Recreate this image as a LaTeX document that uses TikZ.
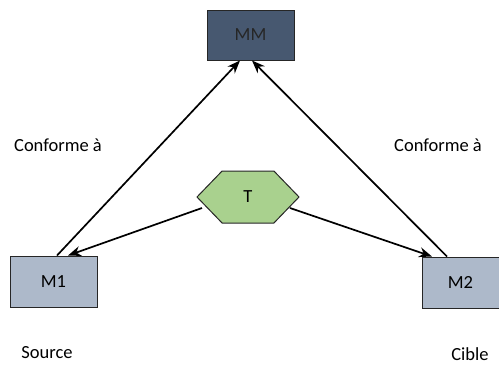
\documentclass[tikz,border=0pt]{standalone}
\usepackage{fontspec}
\setmainfont{Carlito}
\usetikzlibrary{arrows.meta,calc,shapes.symbols}
\begin{document}
\begin{tikzpicture}[x=1pt,y=-1pt,
  box/.style={draw=black!85,line width=1pt,inner sep=0pt,font=\fontsize{18.5}{20}\selectfont},
  lbl/.style={font=\fontsize{18.5}{20}\selectfont,inner sep=0pt},
  arr/.style={line width=1.7pt,-{Stealth[length=13pt,width=10pt]}}]
\useasboundingbox (0,0) rectangle (499,365);
\definecolor{mmfill}{HTML}{475870}
\definecolor{mfill}{HTML}{ADB9CA}
\definecolor{tfill}{HTML}{A9D18E}
\node[box,fill=mmfill,minimum width=87pt,minimum height=50pt,text=black!85] (MM) at (250.5,35) {MM};
\node[box,fill=mfill,minimum width=87pt,minimum height=51pt] (M1) at (53.5,281.5) {M1};
\node[box,fill=mfill,minimum width=77pt,minimum height=51pt] (M2) at (460.5,282.5) {M2};
\node[box,shape=signal,signal to=west and east,signal pointer angle=92,fill=tfill,minimum width=102pt,minimum height=52pt] (T) at (248,197) {T};
\coordinate (m1s) at ($(M1.north)+(3.5,0)$);
\coordinate (m1t) at ($(M1.north)+(14.5,0)$);
\coordinate (m2s) at ($(M2.north)+(-13.5,0)$);
\coordinate (m2t) at ($(M2.north)+(-28.5,0)$);
\coordinate (mma) at ($(MM.south)+(-10.5,0)$);
\coordinate (mmb) at ($(MM.south)+(1.5,0)$);
\coordinate (tl) at ($(T.center)+(-46,11)$);
\coordinate (tr) at ($(T.center)+(42,11)$);
\draw[arr] (m1s) -- (mma);
\draw[arr] (m2s) -- (mmb);
\draw[arr] (tl) -- (m1t);
\draw[arr] (tr) -- (m2t);
\node[lbl] (c1) at (58,145) {Conforme à};
\node[lbl] (c2) at (438,145) {Conforme à};
\node[lbl] (src) at (47,353) {Source};
\node[lbl] (cib) at (470,354) {Cible};
\end{tikzpicture}
\end{document}
